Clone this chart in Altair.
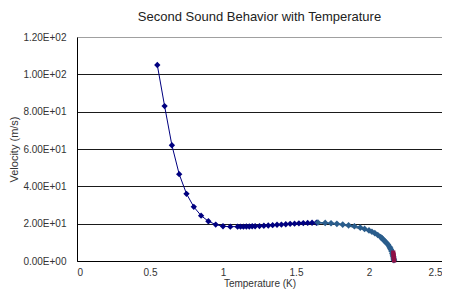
import altair as alt
import pandas as pd

# Series 1 (navy diamonds)
t1 = [0.55, 0.60, 0.65, 0.70, 0.75, 0.80, 0.85, 0.90, 0.95, 1.00, 1.05, 1.10, 1.12, 1.14, 1.16,
      1.18, 1.20, 1.22, 1.25, 1.28, 1.31, 1.34, 1.37, 1.40, 1.43, 1.46, 1.49, 1.52, 1.55, 1.58,
      1.61, 1.64]
v1 = [105, 83, 62, 46.5, 36, 29, 24.3, 21.3, 19.5, 18.6, 18.4, 18.4, 18.4, 18.4, 18.5,
      18.5, 18.6, 18.6, 18.7, 18.9, 19.0, 19.2, 19.4, 19.5, 19.7, 19.9, 20.0, 20.2, 20.3, 20.4,
      20.5, 20.5]

# Series 1 trend continuation (thin line, no markers)
t1b = [1.64, 1.70, 1.80, 1.90, 2.00, 2.05, 2.10, 2.14, 2.16, 2.17]
v1b = [20.5, 20.2, 19.4, 18.0, 15.8, 13.8, 10.5, 6.5, 3.0, 0.0]

# Series 2 (steel blue diamonds)
t2 = [1.65, 1.70, 1.74, 1.78, 1.82, 1.86, 1.90, 1.94, 1.97, 2.00, 2.02, 2.04, 2.06, 2.08, 2.09,
      2.10, 2.11, 2.12, 2.13, 2.14, 2.145, 2.15, 2.155, 2.16, 2.163, 2.166, 2.168, 2.17, 2.171]
v2 = [20.6, 20.4, 20.2, 19.9, 19.5, 19.1, 18.6, 17.9, 17.2, 16.4, 15.7, 14.9, 13.9, 12.8, 12.1,
      11.3, 10.5, 9.7, 8.8, 7.6, 6.9, 6.1, 5.2, 4.0, 3.2, 2.4, 1.6, 0.9, 0.4]

# Series 3 (red/purple points near the lambda point)
t3 = [2.166, 2.168, 2.169, 2.170, 2.171, 2.172]
v3 = [4.5, 3.5, 2.5, 1.7, 1.0, 0.3]

x_ticks = [0, 0.5, 1, 1.5, 2, 2.5]
y_ticks = [0, 20, 40, 60, 80, 100, 120]

df1 = pd.DataFrame({"T": t1, "V": v1})
df1b = pd.DataFrame({"T": t1b, "V": v1b})
df2 = pd.DataFrame({"T": t2, "V": v2})
df3 = pd.DataFrame({"T": t3, "V": v3})

xenc = alt.X("T:Q", scale=alt.Scale(domain=[0, 2.5], nice=False),
             axis=alt.Axis(values=x_ticks, labelExpr="format(datum.value, '')",
                           title="Temperature  (K)", grid=False, ticks=False, labelOverlap=False,
                           domainColor="#000", labelPadding=6, titlePadding=1))
yenc = alt.Y("V:Q", scale=alt.Scale(domain=[0, 120], nice=False),
             axis=alt.Axis(values=y_ticks, labelOverlap=False, tickCount=7,
                           labelExpr="datum.value == 0 ? '0.00E+00' : (datum.value >= 100 ? format(datum.value/100, '.2f') + 'E+02' : format(datum.value/10, '.2f') + 'E+01')",
                           title="Velocity (m/s)", titleFontSize=11, grid=True,
                           gridColor={"condition": {"test": "datum.value == 120", "value": "#a0a0a0"}, "value": "#1a1a1a"},
                           ticks=False, domainColor="#000", labelPadding=11, titlePadding=3))

navy = "#000080"
steel = "#2A5D8C"

base1 = alt.Chart(df1).encode(x=xenc, y=yenc)
l1 = base1.mark_line(color=navy, strokeWidth=1)
p1 = base1.mark_point(shape="diamond", filled=True, color=navy, size=40, opacity=1)
l1b = alt.Chart(df1b).mark_line(color="#34506e", strokeWidth=1, interpolate="monotone").encode(x=xenc, y=yenc)
base2 = alt.Chart(df2).encode(x=xenc, y=yenc)
l2 = base2.mark_line(color=steel, strokeWidth=1.5)
p2 = base2.mark_point(shape="diamond", filled=True, color=steel, size=44, opacity=1)
p3 = alt.Chart(df3).mark_point(shape="square", filled=True, color="#8E0F45", size=18, opacity=1).encode(x=xenc, y=yenc)

chart = alt.layer(l1, p1, l1b, l2, p2, p3).properties(
    width=365, height=224,
    autosize=alt.AutoSizeParams(type="none"),
    padding={"left": 69, "top": 29, "right": 0, "bottom": 30},
    title=alt.TitleParams("Second Sound Behavior with Temperature", fontSize=13, fontWeight="normal",
                          font="Liberation Sans", color="#222", anchor="middle", offset=8),
).configure_view(stroke="#a0a0a0", strokeWidth=1).configure_axis(
    labelFont="Liberation Sans", labelFontSize=10, labelColor="#333",
    titleFont="Liberation Sans", titleFontSize=10, titleFontWeight="normal", titleColor="#333",
    domainWidth=1, gridWidth=1
)

chart.save("out.html", embed_options={"renderer": "svg", "actions": False})
